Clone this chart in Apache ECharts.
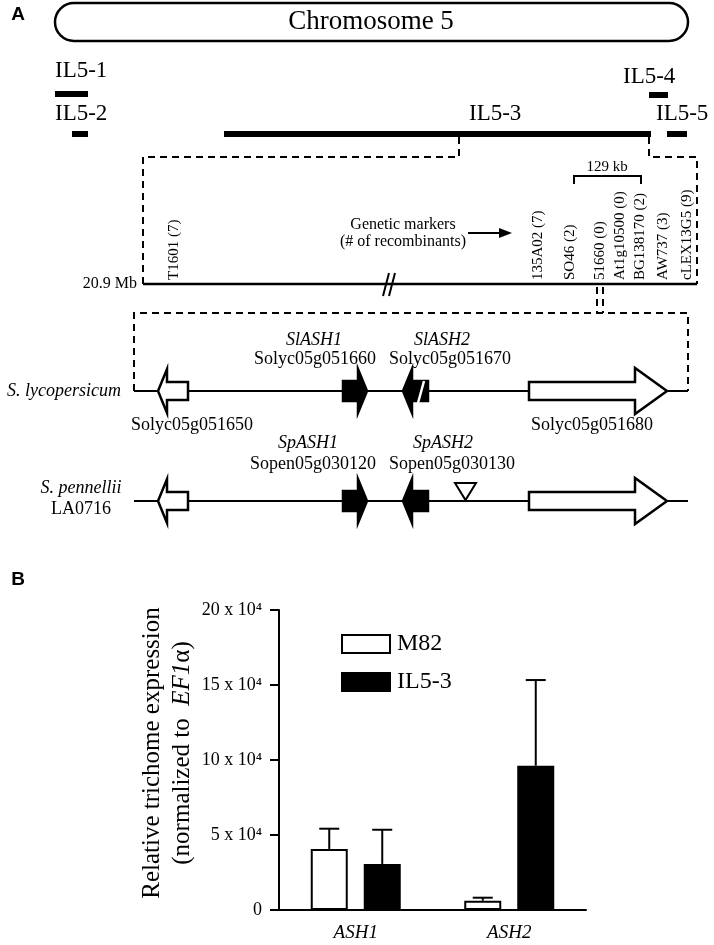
<!DOCTYPE html>
<html>
<head>
<meta charset="utf-8">
<title>ASH locus on chromosome 5 and trichome expression</title>
<script src="https://cdn.jsdelivr.net/npm/echarts@6/dist/echarts.min.js"></script>
<style>
  html, body { margin: 0; padding: 0; background: #fff; }
  #chart { width: 714px; height: 945px; }
</style>
</head>
<body>
<div id="chart"></div>
<script>
const SERIF = '"Liberation Serif", "Times New Roman", serif';
const SANS = '"Liberation Sans", Arial, sans-serif';

// ---- panel B: expression data ----
const genes = ['ASH1', 'ASH2'];
const m82 = [40700, 6200];
const m82Err = [13500, 2000];
const il53 = [30700, 96200];
const il53Err = [22800, 57100];
const yTicks = [0, 50000, 100000, 150000, 200000];

// ---- panel A: map diagram, in units of the hidden map grid ----
const chromosome = [55, 3, 688, 41];
const ilNames = ['IL5-1', 'IL5-2', 'IL5-3', 'IL5-4', 'IL5-5'];
const ilStart = [55, 72, 224, 649, 667];
const ilEnd = [88, 88, 651, 668, 687];
const ilBarY = [94, 134, 134, 95, 134];
const ilLabelX = [55, 55, 469, 623, 656];
const ilLabelY = [71, 114, 114, 77, 114];

const markerNames = ['T1601 (7)', '135A02 (7)', 'SO46 (2)', '51660 (0)', 'At1g10500 (0)',
  'BG138170 (2)', 'AW737 (3)', 'cLEX13G5 (9)'];
const markerX = [174, 538, 570, 600, 620, 640, 663, 687];
const markerBase = 280;

const dashedPaths = [
  [[459, 137], [459, 157], [143, 157], [143, 284]],
  [[649, 137], [649, 157], [697, 157], [697, 284]],
  [[597, 287], [597, 313]],
  [[603, 287], [603, 313]],
  [[134, 391], [134, 313], [688, 313], [688, 391]]
];
const solidPaths = [
  [[143, 284], [697, 284]],
  [[383, 296], [389, 273]],
  [[389, 296], [395, 273]],
  [[574, 184], [574, 176], [641, 176], [641, 184]],
  [[468, 233], [502, 233]],
  [[134, 391], [688, 391]],
  [[134, 501], [688, 501]]
];

// genes drawn on both rows (S. lycopersicum, S. pennellii)
const rowY = [391, 501];
const geneStart = [158, 343, 403, 529];
const geneEnd = [188, 367, 428, 667];
const geneStrand = [-1, 1, -1, 1];
const geneFilled = [false, true, true, false];
const geneHeadLen = [9, 9, 9, 32];
const geneHeadHalf = [22, 22, 22, 23];
const geneBodyHalf = [9, 10, 10, 9];

const mapTexts = [
  ['Chromosome 5', 371, 22, 'center', 'title'],
  ['20.9 Mb', 137, 284, 'right', 'small16'],
  ['Genetic markers', 403, 225, 'center', 'note'],
  ['(# of recombinants)', 403, 242, 'center', 'note'],
  ['129 kb', 607, 167, 'center', 'small'],
  ['SlASH1', 314, 340, 'center', 'italic'],
  ['Solyc05g051660', 315, 359, 'center', 'plain'],
  ['SlASH2', 442, 340, 'center', 'italic'],
  ['Solyc05g051670', 450, 359, 'center', 'plain'],
  ['S. lycopersicum', 121, 391, 'right', 'italic'],
  ['Solyc05g051650', 192, 425, 'center', 'plain'],
  ['Solyc05g051680', 592, 425, 'center', 'plain'],
  ['SpASH1', 308, 443, 'center', 'italic'],
  ['Sopen05g030120', 313, 464, 'center', 'plain'],
  ['SpASH2', 443, 443, 'center', 'italic'],
  ['Sopen05g030130', 452, 464, 'center', 'plain'],
  ['S. pennellii', 81, 488, 'center', 'italic'],
  ['LA0716', 81, 509, 'center', 'plain'],
  ['A', 18, 15, 'center', 'panel'],
  ['B', 18, 580, 'center', 'panel']
];
const textStyles = {
  title: { fontSize: 27 },
  il: { fontSize: 23 },
  plain: { fontSize: 18 },
  italic: { fontSize: 18, fontStyle: 'italic' },
  small: { fontSize: 15 },
  small16: { fontSize: 16 },
  note: { fontSize: 16 },
  panel: { fontSize: 19, fontWeight: 'bold', fontFamily: SANS }
};

const BLACK = '#000';

function mapSeries(items, draw, z) {
  return {
    type: 'custom', xAxisIndex: 0, yAxisIndex: 0, silent: true, z: z || 2,
    data: items.map((_, i) => [i, i]),
    renderItem: (params, api) => draw(params.dataIndex, api)
  };
}

function poly(api, pts, style, closed) {
  return {
    type: closed ? 'polygon' : 'polyline',
    shape: { points: pts.map(p => api.coord(p)) },
    style: style
  };
}

function genePoints(g, y) {
  const s = geneStart[g], e = geneEnd[g];
  const hl = geneHeadLen[g], hh = geneHeadHalf[g], bh = geneBodyHalf[g];
  if (geneStrand[g] > 0) {
    const b = e - hl;
    return [[s, y - bh], [b, y - bh], [b, y - hh], [e, y], [b, y + hh], [b, y + bh], [s, y + bh]];
  }
  const b = s + hl;
  return [[e, y - bh], [b, y - bh], [b, y - hh], [s, y], [b, y + hh], [b, y + bh], [e, y + bh]];
}

function textEl(api, text, x, y, align, key, rotation) {
  const p = api.coord([x, y]);
  return {
    type: 'text', x: p[0], y: p[1], rotation: rotation || 0,
    style: Object.assign({
      text: text, fill: BLACK, fontFamily: SERIF,
      align: align, verticalAlign: 'middle'
    }, textStyles[key])
  };
}

const geneItems = [];
rowY.forEach((y, r) => geneStart.forEach((_, g) => geneItems.push([g, y, r])));

const mapSeriesList = [
  mapSeries([chromosome], (i, api) => {
    const a = api.coord([chromosome[0], chromosome[1]]);
    const b = api.coord([chromosome[2], chromosome[3]]);
    return {
      type: 'rect',
      shape: { x: a[0], y: a[1], width: b[0] - a[0], height: b[1] - a[1], r: (b[1] - a[1]) / 2 },
      style: { fill: '#fff', stroke: BLACK, lineWidth: 2.5 }
    };
  }, 1),
  mapSeries(ilNames, (i, api) => ({
    type: 'group',
    children: [
      poly(api, [[ilStart[i], ilBarY[i] - 3], [ilEnd[i], ilBarY[i] - 3],
        [ilEnd[i], ilBarY[i] + 3], [ilStart[i], ilBarY[i] + 3]], { fill: BLACK }, true),
      textEl(api, ilNames[i], ilLabelX[i], ilLabelY[i], 'left', 'il')
    ]
  })),
  mapSeries(dashedPaths, (i, api) =>
    poly(api, dashedPaths[i], { stroke: BLACK, lineWidth: 2, fill: null, lineDash: [7, 5] })),
  mapSeries(solidPaths, (i, api) =>
    poly(api, solidPaths[i], { stroke: BLACK, lineWidth: i === 0 ? 2.5 : 2, fill: null })),
  mapSeries([0], (i, api) =>
    poly(api, [[499, 228], [512, 233], [499, 238]], { fill: BLACK }, true)),
  mapSeries(markerNames, (i, api) =>
    textEl(api, markerNames[i], markerX[i], markerBase, 'left', 'small', Math.PI / 2)),
  mapSeries(geneItems, (i, api) => {
    const [g, y, r] = geneItems[i];
    const children = [poly(api, genePoints(g, y), {
      fill: geneFilled[g] ? BLACK : '#fff', stroke: BLACK, lineWidth: 2.5, lineJoin: 'miter'
    }, true)];
    if (g === 2 && r === 0) {
      children.push(poly(api, [[418, y + 12], [424, y - 10]], { stroke: '#fff', lineWidth: 2.5 }));
    }
    return { type: 'group', children: children };
  }, 3),
  mapSeries([0], (i, api) =>
    poly(api, [[455, 483], [476, 483], [465.5, 500]], { fill: '#fff', stroke: BLACK, lineWidth: 2 }, true), 3),
  mapSeries(mapTexts, (i, api) => {
    const t = mapTexts[i];
    return textEl(api, t[0], t[1], t[2], t[3], t[4]);
  }, 4)
];

// ---- panel B series ----
const barWidth = 37;
const barGapPx = 16;

function errorSeries(name, values, errs, side) {
  return {
    type: 'custom', name: name, xAxisIndex: 1, yAxisIndex: 1, z: 5, silent: true,
    data: values.map((v, i) => [i, v, v + errs[i]]),
    renderItem(params, api) {
      const base = api.coord([api.value(0), api.value(1)]);
      const top = api.coord([api.value(0), api.value(2)]);
      const x = base[0] + side * (barWidth + barGapPx) / 2;
      return {
        type: 'group',
        children: [
          { type: 'line', shape: { x1: x, y1: base[1], x2: x, y2: top[1] }, style: { stroke: BLACK, lineWidth: 2 } },
          { type: 'line', shape: { x1: x - 10, y1: top[1], x2: x + 10, y2: top[1] }, style: { stroke: BLACK, lineWidth: 2 } }
        ]
      };
    }
  };
}

const chart = echarts.init(document.getElementById('chart'));
chart.setOption({
  animation: false,
  backgroundColor: '#fff',
  grid: [
    { left: 0, top: 0, width: 714, height: 945 },
    { left: 279, top: 610, width: 307, height: 300 }
  ],
  xAxis: [
    { type: 'value', gridIndex: 0, min: 0, max: 714, show: false },
    {
      type: 'category', gridIndex: 1, data: genes,
      axisLine: { lineStyle: { color: BLACK, width: 2 } },
      axisTick: { alignWithLabel: true, length: 10, lineStyle: { color: BLACK, width: 2 } },
      axisLabel: { color: BLACK, fontFamily: SERIF, fontStyle: 'italic', fontSize: 19, margin: 13 }
    }
  ],
  yAxis: [
    { type: 'value', gridIndex: 0, min: 0, max: 945, inverse: true, show: false },
    {
      type: 'value', gridIndex: 1,
      min: yTicks[0], max: yTicks[yTicks.length - 1], interval: yTicks[1] - yTicks[0],
      splitLine: { show: false },
      axisLine: { show: true, lineStyle: { color: BLACK, width: 2 } },
      axisTick: { show: true, length: 9, lineStyle: { color: BLACK, width: 2 } },
      axisLabel: {
        color: BLACK, fontFamily: SERIF, fontSize: 18, margin: 17,
        formatter: v => (v === 0 ? '0' : (v / 10000) + ' x 10\u2074')
      },
      name: '{n|Relative trichome expression}\n{n|(normalized to  }{i|EF1}{n|\u03b1)}',
      nameLocation: 'middle',
      nameRotate: 90,
      nameGap: 82,
      nameTextStyle: {
        color: BLACK, fontFamily: SERIF, fontSize: 25, lineHeight: 30,
        padding: [0, 0, 0, 14],
        rich: {
          n: { fontFamily: SERIF, fontSize: 25, lineHeight: 30, color: BLACK },
          i: { fontFamily: SERIF, fontSize: 25, lineHeight: 30, color: BLACK, fontStyle: 'italic' }
        }
      }
    }
  ],
  legend: {
    data: ['M82', 'IL5-3'],
    orient: 'vertical',
    left: 336,
    top: 627,
    itemWidth: 48,
    itemHeight: 18,
    itemGap: 14,
    icon: 'rect',
    selectedMode: false,
    textStyle: { color: BLACK, fontFamily: SERIF, fontSize: 24, padding: [0, 0, 0, 2] }
  },
  series: mapSeriesList.concat([
    {
      name: 'M82', type: 'bar', xAxisIndex: 1, yAxisIndex: 1,
      data: m82, barWidth: barWidth, barGap: (barGapPx / barWidth * 100) + '%',
      itemStyle: { color: '#fff', borderColor: BLACK, borderWidth: 2 }
    },
    {
      name: 'IL5-3', type: 'bar', xAxisIndex: 1, yAxisIndex: 1,
      data: il53, barWidth: barWidth,
      itemStyle: { color: BLACK, borderColor: BLACK, borderWidth: 2 }
    },
    errorSeries('M82 error', m82, m82Err, -1),
    errorSeries('IL5-3 error', il53, il53Err, 1)
  ])
});
</script>
</body>
</html>
